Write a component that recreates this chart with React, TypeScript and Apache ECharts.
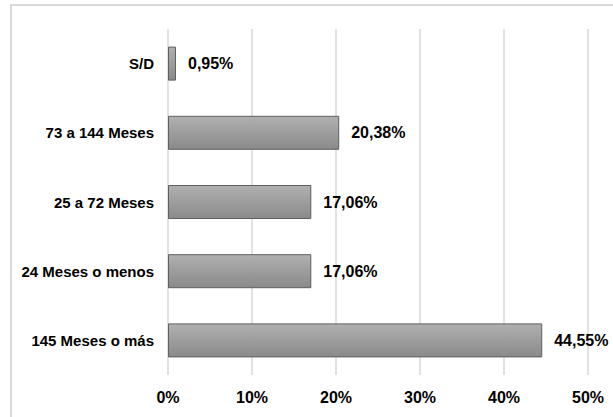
import React, { useEffect, useRef } from "react";
import * as echarts from "echarts";

const categories = ["145 Meses o más", "24 Meses o menos", "25 a 72 Meses", "73 a 144 Meses", "S/D"];
const values = [44.55, 17.06, 17.06, 20.38, 0.95];
const xTicks = [0, 10, 20, 30, 40, 50];

const FONT = "'Liberation Sans', Arial, sans-serif";

export default function App() {
  const ref = useRef<HTMLDivElement>(null);
  useEffect(() => {
    if (!ref.current) return;
    const chart = echarts.init(ref.current, null, { renderer: "svg" });
    chart.setOption({
      animation: false,
      backgroundColor: "#ffffff",
      graphic: [
        {
          type: "rect",
          shape: { x: 11, y: 5, width: 700, height: 500 },
          style: { fill: "none", stroke: "#d9d9d9", lineWidth: 2 },
          z: -1,
        },
      ],
      grid: {
        left: 168,
        top: 29,
        width: 420,
        height: 346,
        containLabel: false,
        outerBoundsMode: "none",
      },
      xAxis: {
        type: "value",
        min: xTicks[0],
        max: xTicks[xTicks.length - 1],
        interval: 10,
        axisLine: { show: false },
        axisTick: { show: false },
        splitLine: { show: true, lineStyle: { color: "#d9d9d9", width: 1.5 } },
        axisLabel: {
          formatter: "{value}%",
          color: "#000",
          fontFamily: FONT,
          fontWeight: "bold",
          fontSize: 16,
          margin: 14,
        },
      },
      yAxis: {
        type: "category",
        data: categories,
        axisLine: { show: false },
        axisTick: { show: false },
        axisLabel: {
          color: "#000",
          fontFamily: FONT,
          fontWeight: "bold",
          fontSize: 15,
          margin: 14,
        },
      },
      series: [
        {
          type: "bar",
          data: values,
          barWidth: 34,
          itemStyle: {
            color: new echarts.graphic.LinearGradient(0, 0, 0, 1, [
              { offset: 0, color: "#b0b0b0" },
              { offset: 1, color: "#8a8a8a" },
            ]),
            borderColor: "#5f5f5f",
            borderWidth: 1,
          },
          label: {
            show: true,
            position: "right",
            distance: 12,
            color: "#000",
            fontFamily: FONT,
            fontWeight: "bold",
            fontSize: 16,
            formatter: (p: any) => p.value.toFixed(2).replace(".", ",") + "%",
          },
        },
      ],
    });
    return () => chart.dispose();
  }, []);
  return (
    <div
      ref={ref}
      style={{ position: "fixed", left: 0, top: 0, width: 613, height: 417 }}
    />
  );
}
